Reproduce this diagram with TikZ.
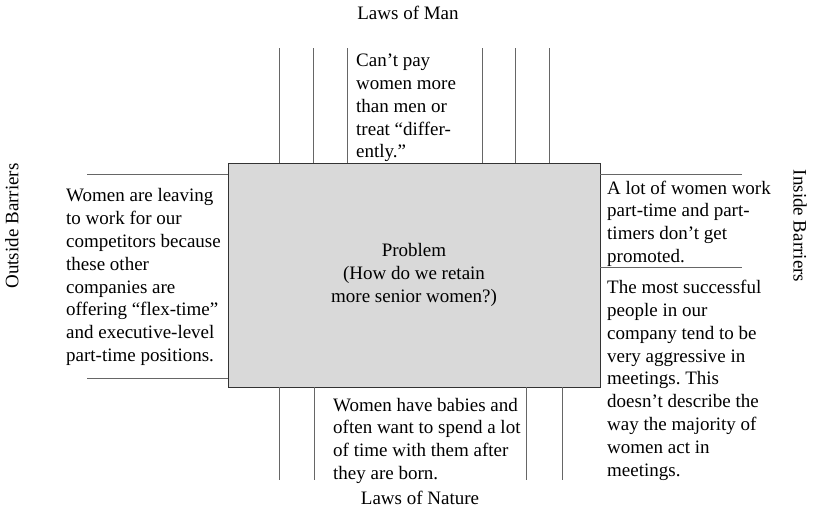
\documentclass[tikz,border=0pt]{standalone}
\usepackage{fontspec}
\setmainfont{Liberation Serif}
\frenchspacing
\begin{document}
\begin{tikzpicture}[x=1pt,y=1pt,
  every node/.style={font=\fontsize{19}{22.8}\selectfont, inner sep=0pt},
  problembox/.style={draw=black!80, line width=0.9pt, fill=black!15,
    minimum width=372pt, minimum height=224pt, align=center},
  bar/.style={draw=black!60, line width=0.9pt},
  note/.style={anchor=base west, align=left},
  heading/.style={anchor=base}]
\useasboundingbox (0,0) rectangle (813,512);

% central problem box
\node[problembox] (problem) at (414,237)
  {Problem\\(How do we retain\\more senior women?)};

% force-field bars: top (laws of man)
\foreach \x in {279,313,347,482,515,549}
  \draw[bar] (problem.north -| \x,0) -- ++(0,115);
% bottom (laws of nature)
\foreach \x in {279,314,526,562}
  \draw[bar] (problem.south -| \x,0) -- ++(0,-93);
% left (outside barriers)
\foreach \y in {338,134}
  \draw[bar] (problem.west |- 0,\y) -- ++(-141,0);
% right (inside barriers)
\foreach \y in {338,245}
  \draw[bar] (problem.east |- 0,\y) -- ++(142,0);

% side headings
\node[heading] (man) at (408,492) {Laws of Man};
\node[heading] (nature) at (420,8) {Laws of Nature};
\node[rotate=90] (outside) at (12,286) {Outside Barriers};
\node[rotate=-90] (inside) at (800,286) {Inside Barriers};

% forces (each placed by the baseline of its last line)
\node[note] (pay) at (356,354)
  {Can’t pay\\women more\\than men or\\treat “differ-\\ently.”};
\node[note] (leaving) at (66,150.5)
  {Women are leaving\\to work for our\\competitors because\\these other\\companies are\\offering “flex-time”\\and executive-level\\part-time positions.};
\node[note] (parttime) at (607,249.5)
  {A lot of women work\\part-time and part-\\timers don’t get\\promoted.};
\node[note] (aggressive) at (607,36)
  {The most successful\\people in our\\company tend to be\\very aggressive in\\meetings. This\\doesn’t describe the\\way the majority of\\women act in\\meetings.};
\node[note] (babies) at (333,32.5)
  {Women have babies and\\often want to spend a lot\\of time with them after\\they are born.};
\end{tikzpicture}
\end{document}
